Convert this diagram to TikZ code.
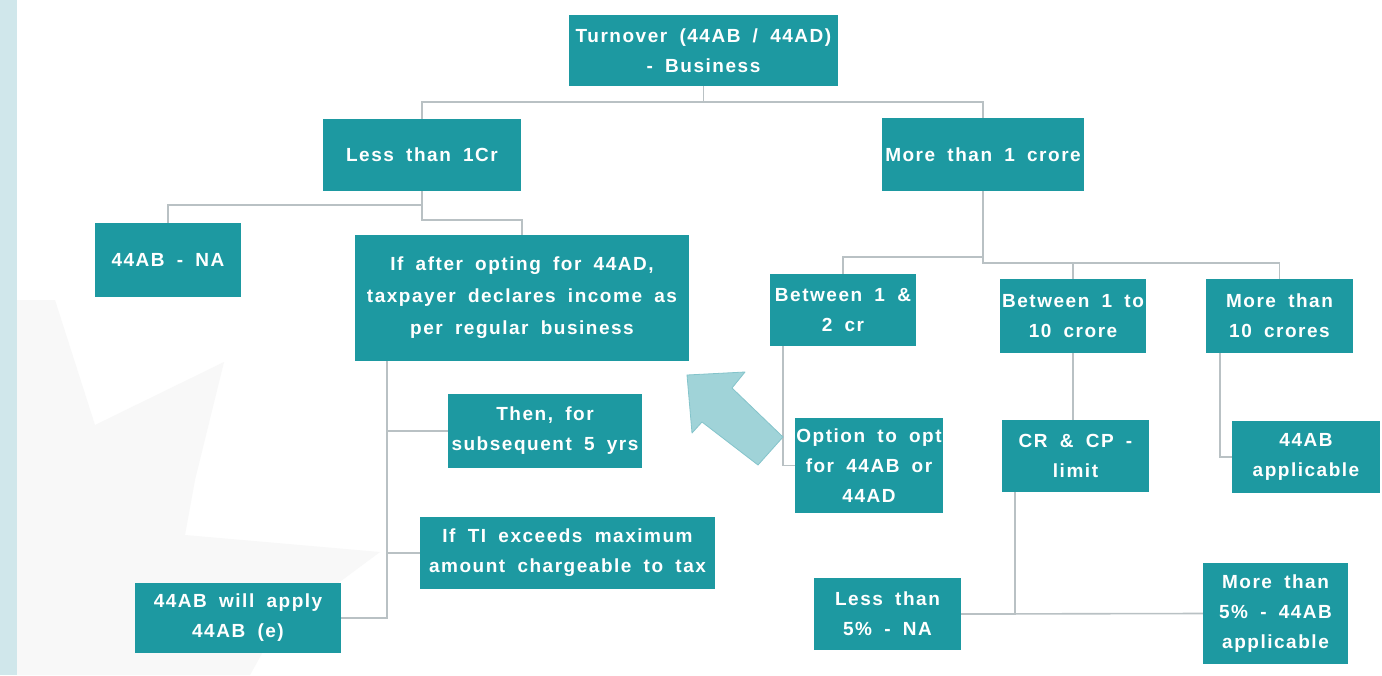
\documentclass[tikz,border=0pt]{standalone}
\usepackage{fontspec}
\setmainfont{Liberation Sans}[LetterSpace=8, WordSpace=1.8]
\usepackage{xcolor}
\usetikzlibrary{positioning,calc}

\definecolor{tealbox}{RGB}{29,153,161}
\definecolor{linkgray}{RGB}{185,193,196}
\definecolor{arrfill}{RGB}{160,211,216}
\definecolor{arredge}{RGB}{132,196,203}
\definecolor{stripe}{RGB}{208,231,235}
\definecolor{wmgray}{RGB}{248,248,248}

\begin{document}
\begin{tikzpicture}[x=1pt, y=-1pt,
  box/.style={fill=tealbox, text=white, align=center, inner sep=0pt,
    font=\fontsize{19}{30}\selectfont\bfseries},
  lnk/.style={draw=linkgray, line width=1.6pt},
  blk/.style={fill=arrfill, draw=arredge, line width=0.8pt, line join=round}]
\useasboundingbox[fill=white] (0,0) rectangle (1382,675);
% faint watermark
\fill[wmgray] (17,300) -- (55,300) -- (95,425) -- (224,362) -- (195,480) -- (185,535) -- (380,552) -- (275,630) -- (250,675) -- (17,675) -- cycle;
\fill[stripe] (0,0) rectangle (17,675);

% top levels
\node[box, minimum width=269pt, minimum height=71pt] (root) at (703.5,50.5) {Turnover (44AB / 44AD)\\- Business};
\node[box, minimum width=198pt, minimum height=72pt] (less) at (422,155) {Less than 1Cr};
\node[box, minimum width=202pt, minimum height=73pt] (more) at (983,154.5) {More than 1 crore};

% less than 1Cr side
\node[box, minimum width=146pt, minimum height=74pt] (abna) at (168,260) {44AB - NA};
\node[box, minimum width=334pt, minimum height=126pt] (after) at (522,298) {If after opting for 44AD,\\[2pt]taxpayer declares income as\\[2pt]per regular business};
\node[box, minimum width=194pt, minimum height=74pt] (then) at (545,431) {Then, for\\subsequent 5 yrs};
\node[box, minimum width=295pt, minimum height=72pt] (exceed) at (567.5,553) {If TI exceeds maximum\\amount chargeable to tax};
\node[box, minimum width=206pt, minimum height=70pt] (willapply) at (238,618) {44AB will apply\\44AB (e)};

% more than 1 crore side
\node[box, minimum width=146pt, minimum height=72pt] (btw12) at (843,310) {Between 1 \&\\2 cr};
\node[box, minimum width=146pt, minimum height=74pt] (btw110) at (1073,316) {Between 1 to\\10 crore};
\node[box, minimum width=147pt, minimum height=74pt] (more10) at (1279.5,316) {More than\\10 crores};
\node[box, minimum width=148pt, minimum height=95pt] (option) at (869,465.5) {Option to opt\\for 44AB or\\44AD};
\node[box, minimum width=147pt, minimum height=72pt] (crcp) at (1075.5,456) {CR \& CP -\\limit};
\node[box, minimum width=148pt, minimum height=72pt] (abapp) at (1306,457) {44AB\\applicable};
\node[box, minimum width=147pt, minimum height=72pt] (lt5) at (887.5,614) {Less than\\5\% - NA};
\node[box, minimum width=145pt, minimum height=101pt] (gt5) at (1275.5,613.5) {More than\\5\% - 44AB\\applicable};

% connectors
\coordinate (bus0) at (703.5,102);
\draw[lnk] (root.south) -- (bus0);
\draw[lnk] (less.north) |- (bus0) -| (more.north);
\draw[lnk] (less.south) -- ([yshift=-29pt]less.south) -| (after.north);
\draw[lnk] (abna.north) |- ([yshift=-14pt]less.south);
\draw[lnk] (more.south) -- ([yshift=-72pt]more.south) -| (more10.north);
\draw[lnk] ([yshift=-72pt]more.south -| btw110.north) -- (btw110.north);
\draw[lnk] ([yshift=-66pt]more.south) -| (btw12.north);
\draw[lnk] ([xshift=13pt]btw12.south west) |- (option.west);
\draw[lnk] (btw110.south) -- (btw110.south |- crcp.north);
\draw[lnk] ([xshift=14pt]more10.south west) |- (abapp.west);
\draw[lnk] ([xshift=13pt]crcp.south west) |- (lt5.east);
\draw[lnk] (lt5.east) -- (gt5.west);
\draw[lnk] ([xshift=32pt]after.south west) |- (willapply.east);
\draw[lnk] ([xshift=32pt]after.south west |- then.west) -- (then.west);
\draw[lnk] ([xshift=32pt]after.south west |- exceed.west) -- (exceed.west);

% block arrow towards the 44AD box
\draw[blk] (687,375) -- (745,372) -- (732,388) -- (783,437) -- (758,465) -- (702,422) -- (692,433) -- cycle;
\end{tikzpicture}
\end{document}
